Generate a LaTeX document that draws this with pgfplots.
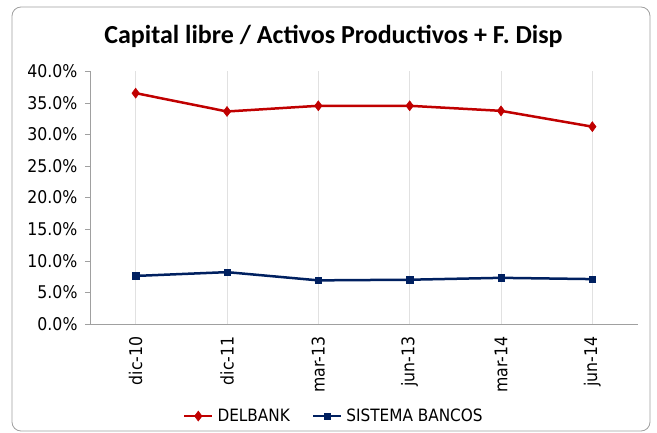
\documentclass[border=0pt]{standalone}
\usepackage{fontspec}
\setmainfont{DejaVu Sans Condensed}
\newfontfamily\titlefont{Carlito}
\usepackage{pgfplots}
\pgfplotsset{compat=1.18}

\definecolor{delred}{RGB}{192,0,0}
\definecolor{sisblue}{RGB}{0,32,96}
\definecolor{gridgray}{RGB}{225,225,225}
\definecolor{axgray}{RGB}{160,160,160}

\begin{document}
\begin{tikzpicture}
\begin{axis}[
    name=ax,
    width=548pt, height=253pt, scale only axis,
    xmin=-0.5, xmax=5.5,
    ymin=0, ymax=40,
    xtick={0,1,2,3,4,5},
    xticklabels={dic-10,dic-11,mar-13,jun-13,mar-14,jun-14},
    x tick label style={rotate=90, anchor=east, font=\fontsize{17.5}{20}\selectfont},
    xticklabel shift=4pt,
    ytick={0,5,...,40},
    yticklabel={\pgfmathprintnumber[fixed,fixed zerofill,precision=1]{\tick}\%},
    y tick label style={font=\fontsize{17.5}{20}\selectfont},
    yticklabel shift=4pt,
    /pgf/number format/assume math mode=true,
    xmajorgrids, major grid style={gridgray, line width=0.6pt},
    major x tick style={draw=none},
    major y tick style={axgray},
    tick align=outside, major tick length=5pt,
    axis x line*=bottom, axis y line*=left,
    axis line style={axgray, line width=0.6pt},
    x axis line style={-}, y axis line style={-},
    legend style={at={(0.445,-0.364)}, anchor=center, draw=none, fill=none, legend columns=2,
        font=\fontsize{17}{19}\selectfont,
        /tikz/every odd column/.append style={column sep=2pt},
        /tikz/every even column/.append style={column sep=20pt}},
    legend image code/.code={
        \draw[#1] (0pt,0pt) -- (28pt,0pt);
        \draw[#1, mark repeat=2, mark phase=2] plot coordinates {(0pt,0pt) (14pt,0pt) (28pt,0pt)};
    },
    ]
\addplot[delred, line width=2.5pt, mark=diamond*, mark size=5pt, mark options={solid, line width=0.5pt}]
    coordinates {(0,36.5) (1,33.6) (2,34.5) (3,34.5) (4,33.7) (5,31.2)};
\addlegendentry{DELBANK}
\addplot[sisblue, line width=2.5pt, mark=square*, mark size=3.2pt, mark options={solid, line width=0.5pt}]
    coordinates {(0,7.6) (1,8.2) (2,6.9) (3,7.0) (4,7.3) (5,7.1)};
\addlegendentry{SISTEMA BANCOS}
\end{axis}
\begin{scope}[shift={(ax.south west)}, x=1pt, y=1pt]
\path (-90,-108) rectangle (567,324);
\draw[axgray, line width=0.8pt, rounded corners=9pt] (-78,-107) rectangle (560,317);
\node[anchor=base, font=\titlefont\bfseries\fontsize{26}{29}\selectfont] at (243.5,281) {Capital libre / Activos Productivos + F. Disp};
\end{scope}
\end{tikzpicture}
\end{document}
